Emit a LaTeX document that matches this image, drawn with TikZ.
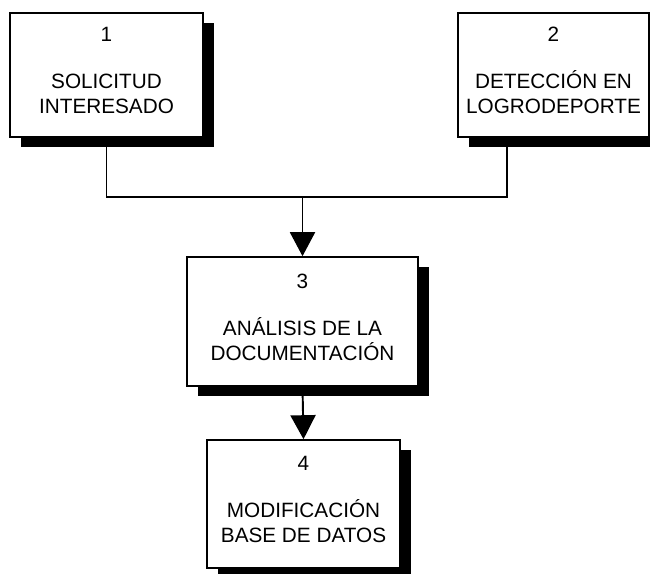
\documentclass[tikz,border=0pt]{standalone}
\usepackage{fontspec}
\setmainfont{Liberation Sans}
\usetikzlibrary{arrows.meta,shadows,calc}

\begin{document}
\begin{tikzpicture}[
caja/.style={draw, line width=0.9pt, fill=white, minimum width=3.86cm, minimum height=2.48cm, align=center, inner sep=0pt, text depth=0.18cm, font=\fontsize{11.8}{14.2}\selectfont, general shadow={fill=black, shadow xshift=0.21cm, shadow yshift=-0.2cm}},
linea/.style={line width=1.1pt},
flecha/.style={linea, -{Triangle[length=0.48cm, width=0.5cm]}},
]

\useasboundingbox (0,0) rectangle (13,11.46);

% Kaesten
\node[caja] (uno) at (2.13,9.96) {1\\[12.4pt]SOLICITUD\\INTERESADO};
\node[caja, minimum width=3.82cm] (dos) at (11.07,9.96) {2\\[12.4pt]DETECCI\'ON EN\\LOGRODEPORTE};
\node[caja, minimum width=4.62cm, minimum height=2.58cm] (tres) at (6.05,5.03) {3\\[12.4pt]AN\'ALISIS DE LA\\DOCUMENTACI\'ON};
\node[caja, minimum height=2.56cm] (cuatro) at (6.07,1.38) {4\\[12.4pt]MODIFICACI\'ON\\BASE DE DATOS};

\coordinate (union) at (6.05,7.52);
\coordinate (pie) at ($(dos.south west)!0.257!(dos.south east)$);

\draw[linea] (uno.south) |- (pie |- union) -- (pie);
\draw[flecha] (union) -- (tres.north);
\draw[flecha] (tres.south) -- (cuatro.north);

\end{tikzpicture}
\end{document}
